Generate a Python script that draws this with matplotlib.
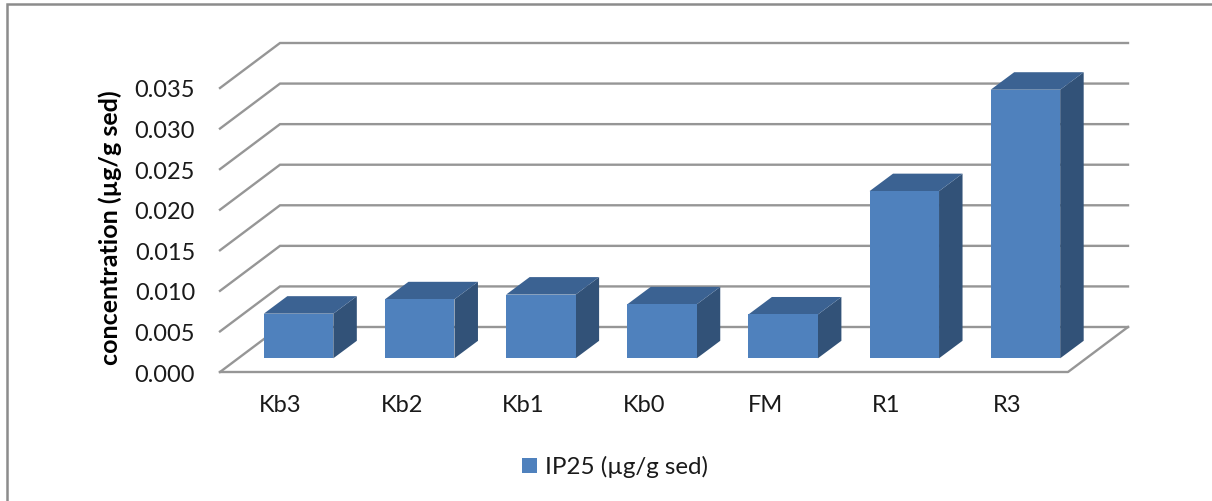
import matplotlib.pyplot as plt
from matplotlib.lines import Line2D
from matplotlib.patches import Polygon, Rectangle

categories = ['Kb3', 'Kb2', 'Kb1', 'Kb0', 'FM', 'R1', 'R3']
ip25_values = [0.0055, 0.00727, 0.00785, 0.00665, 0.0054, 0.0206, 0.0331]
y_ticks = [0.000, 0.005, 0.010, 0.015, 0.020, 0.025, 0.030, 0.035]

FRONT = '#4F81BD'
TOP = '#3B6292'
SIDE = '#325278'
GRID = '#969696'

W, H = 1212, 502
plt.rcParams['font.family'] = ['Lato', 'DejaVu Sans']

fig = plt.figure(figsize=(W / 100, H / 100), dpi=100)
ax = fig.add_axes([220 / W, (H - 373) / H, 848 / W, 284 / H])
ax.set_xlim(0, 7)
ax.set_ylim(0, 0.035)
ax.patch.set_visible(False)
for s in ax.spines.values():
    s.set_visible(False)

# pixel sizes converted to data units, the 3D look is only sheared polygons
px_x = 7 / 848
px_y = 0.035 / 284
depth_x, depth_y = 60 * px_x, 45 * px_y

# back wall gridlines and their slanted part on the side wall
for t in y_ticks:
    ax.plot([0, depth_x, 7 + depth_x], [t, t + depth_y, t + depth_y],
            color=GRID, lw=1.7, clip_on=False, zorder=1, solid_joinstyle='miter')
ax.plot([depth_x + 7, 7, 0], [depth_y, 0, 0], color=GRID, lw=1.7, clip_on=False, zorder=1)

# bars
bar_w = 69.5 * px_x
off_x, off_y = 18 * px_x, 13.7 * px_y
dep_x, dep_y = 23.5 * px_x, 17.5 * px_y
for i, v in enumerate(ip25_values):
    x0 = i + 0.5 - bar_w / 2 + off_x
    x1 = x0 + bar_w
    y0 = off_y
    y1 = off_y + v
    ax.add_patch(Polygon([(x1, y0), (x1 + dep_x, y0 + dep_y), (x1 + dep_x, y1 + dep_y), (x1, y1)],
                         facecolor=SIDE, edgecolor='none', clip_on=False, zorder=3))
    ax.add_patch(Polygon([(x0, y1), (x1, y1), (x1 + dep_x, y1 + dep_y), (x0 + dep_x, y1 + dep_y)],
                         facecolor=TOP, edgecolor='none', clip_on=False, zorder=3))
    ax.add_patch(Rectangle((x0, y0), bar_w, v, facecolor=FRONT, edgecolor='none',
                           clip_on=False, zorder=4))

ax.set_xticks([i + 0.5 for i in range(len(categories))])
ax.set_xticklabels(categories, fontsize=17, color='#1a1a1a')
ax.set_yticks(y_ticks)
ax.set_yticklabels([f'{t:.3f}' for t in y_ticks], fontsize=16.9, color='#1a1a1a')
ax.tick_params(axis='x', length=0, pad=16)
ax.tick_params(axis='y', length=0, pad=18)
ax.set_ylabel('concentration (µg/g sed)', fontsize=18, fontweight='bold', color='black')
ax.yaxis.set_label_coords((122 - 220) / 848, (373 - 228) / 284)

# legend placed by hand like the spreadsheet one
fig.patches.append(Rectangle((522 / W, (H - 474) / H), 15 / W, 15 / H, transform=fig.transFigure,
                             facecolor=FRONT, edgecolor='none'))
fig.text(545 / W, (H - 467) / H, 'IP25 (µg/g sed)', fontsize=17.4, va='center', ha='left', color='#1a1a1a')

# chart frame, only the top and left edges fall inside the picture
frame_x = [7 / W, 7 / W, 1]
frame_y = [0, (H - 5) / H, (H - 5) / H]
fig.add_artist(Line2D(frame_x, frame_y, color='#8c8c8c', lw=1.8, transform=fig.transFigure,
                      solid_joinstyle='miter'))

fig.savefig('out.png', dpi=100)
